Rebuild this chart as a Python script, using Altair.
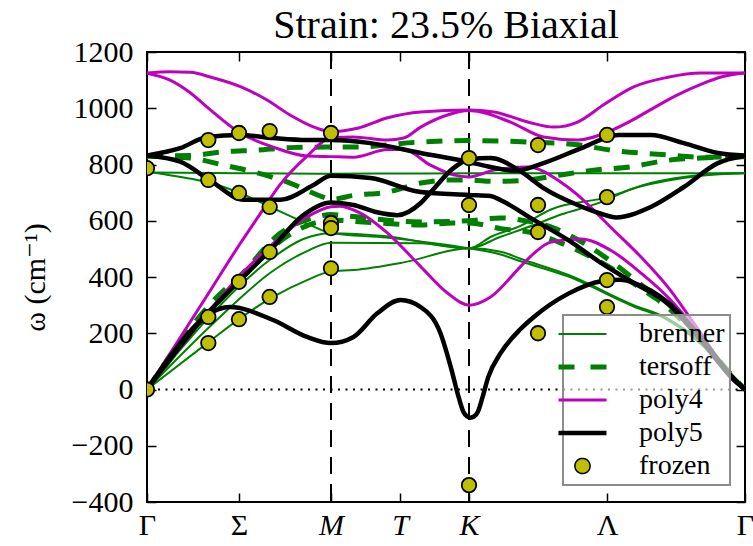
import altair as alt
import pandas as pd

FONT = "Liberation Serif, Times New Roman, DejaVu Serif, serif"

# ---------------- axes / labels ----------------
x_tick_pos = [0, 2, 4, 5.5, 7, 10, 13]
x_tick_lab = ["Γ", "Σ", "M", "T", "K", "Λ", "Γ"]
x_italic = ["M", "T", "K"]
y_ticks = [-400, -200, 0, 200, 400, 600, 800, 1000, 1200]
v_lines = [4, 7]          # M and K
zero_line = [0]

# ---------------- brenner (thin green) ----------------
brenner_1 = [(0, 772), (2, 769), (4, 767), (5.5, 768), (7, 769), (10, 769), (13, 769)]
brenner_2 = [(0, 775), (1.09, 745), (1.31, 738), (2.03, 698), (2.68, 649), (3.48, 590), (4, 556),
             (5.2, 540), (6.16, 522), (7, 502), (7.69, 480), (8.12, 456), (9.15, 402), (10.58, 295),
             (11.32, 247), (12.04, 162), (12.76, 40), (13, 0)]
brenner_3 = [(0, 0), (1.31, 250), (1.96, 360), (2.68, 462), (3.4, 535), (4, 556), (5.2, 545), (7, 502),
             (7.5, 545), (8.12, 582), (8.78, 640), (10.02, 684), (10.95, 734), (12.04, 763), (13, 770)]
brenner_4 = [(0, 0), (1.31, 165), (2.03, 254), (2.74, 329), (3.48, 389), (4, 420), (4.49, 425),
             (5.58, 452), (7, 502), (7.69, 490), (8.12, 465), (9.15, 408), (10.58, 300), (11.32, 252),
             (12.04, 168), (12.76, 42), (13, 0)]
brenner_5 = [(0, 0), (1.31, 215), (1.96, 315), (2.68, 415), (3.48, 492), (4, 522), (5.95, 520), (7, 502),
             (7.69, 543), (8.41, 585), (9.0, 622), (9.87, 666), (10.52, 712), (11.3, 742), (12.04, 760),
             (13, 769)]

# ---------------- tersoff (dashed green) ----------------
tersoff_1 = [(0, 830), (0.94, 832), (1.66, 845), (2.4, 851), (3.11, 860), (4, 862), (4.49, 862),
             (5.95, 880), (7, 885), (8.28, 880), (9.36, 870), (10.08, 851), (11.32, 834), (12.04, 826),
             (13, 828)]
tersoff_2 = [(0, 830), (0.94, 823), (1.66, 798), (2.4, 770), (3.11, 734), (3.83, 684), (4, 676),
             (4.49, 690), (5.23, 702), (5.95, 734), (6.66, 745), (7, 745), (7.54, 740), (8.28, 745),
             (8.99, 763), (9.71, 780), (10.52, 792), (11.32, 815), (12.04, 823), (13, 828)]
tersoff_3 = [(0, 0), (1.52, 329), (2.03, 405), (2.9, 556), (3.7, 614), (4, 622), (4.49, 615), (5.23, 602),
             (5.95, 596), (7, 600), (7.69, 610), (8.12, 603), (8.78, 578), (9.5, 520), (10.24, 437),
             (10.8, 365), (11.32, 306), (12.04, 180), (12.76, 42), (13, 0)]
tersoff_4 = [(0, 0), (1.52, 305), (2.2, 420), (3.05, 545), (3.7, 595), (4, 603), (4.49, 598), (5.23, 590),
             (5.95, 585), (6.66, 592), (7, 592), (7.69, 572), (8.41, 556), (9.15, 510), (10.0, 440),
             (10.8, 352), (11.32, 292), (12.04, 172), (12.76, 38), (13, 0)]

# ---------------- poly4 (magenta) ----------------
poly4_1 = [(0, 1125), (0.5, 1130), (0.94, 1128), (1.4, 1110), (2.03, 1077), (2.6, 1030), (3.11, 976),
           (3.6, 935), (4, 917), (4.6, 930), (5.23, 966), (5.95, 987), (7, 994), (7.54, 987), (8.28, 951),
           (8.84, 933), (9.36, 951), (9.95, 1015), (10.58, 1076), (11.32, 1110), (12.04, 1125), (13, 1125)]
poly4_2 = [(0, 1125), (0.5, 1100), (0.94, 1055), (1.3, 1005), (2.03, 912), (2.74, 862), (3.48, 830),
           (4, 828), (4.49, 826), (5.23, 853), (5.58, 853), (6.16, 798), (6.66, 763), (7, 756), (7.54, 780),
           (8.28, 791), (8.99, 738), (9.36, 692), (9.71, 638), (10.08, 577), (10.74, 471), (11.32, 365),
           (12.04, 200), (12.76, 34), (13, 0)]
poly4_3 = [(0, 0), (1.31, 335), (2.03, 520), (2.4, 610), (2.9, 730), (3.48, 830), (4, 895), (4.49, 898),
           (5.23, 887), (5.58, 894), (5.95, 933), (6.53, 976), (7, 992), (7.9, 951), (8.62, 898), (9.36, 887),
           (10.08, 920), (10.52, 955), (10.95, 995), (11.5, 1045), (12.04, 1085), (12.5, 1112), (13, 1125)]
poly4_4 = [(0, 0), (1.31, 270), (1.96, 395), (2.68, 510), (3.48, 614), (4, 650), (4.2, 652), (4.64, 627),
           (5.23, 556), (5.95, 437), (6.53, 343), (7, 300), (7.47, 329), (8.12, 437), (8.41, 484), (8.78, 524),
           (9.43, 535), (10.08, 495), (10.74, 414), (11.32, 329), (12.04, 190), (12.76, 30), (13, 0)]

# ---------------- poly5 (black) ----------------
poly5_1 = [(0, 832), (0.72, 858), (1.31, 898), (2.03, 905), (2.74, 894), (3.48, 887), (4, 887), (4.86, 876),
           (5.95, 841), (7, 809), (7.47, 791), (8.0, 778), (8.62, 805), (9.5, 862), (10.24, 905), (10.95, 905),
           (11.67, 876), (12.41, 841), (13, 832)]
poly5_2 = [(0, 832), (0.72, 810), (1.4, 740), (2.1, 675), (2.9, 675), (3.6, 725), (4, 760), (4.86, 752),
           (5.95, 702), (7, 692), (7.47, 688), (7.69, 673), (8.41, 603), (9.15, 532), (9.87, 450), (10.58, 379),
           (11.32, 306), (12.04, 176), (12.76, 34), (13, 0)]
poly5_3 = [(0, 0), (1.31, 270), (2.03, 390), (2.68, 496), (3.4, 620), (4, 665), (4.49, 656), (5.0, 630),
           (5.44, 620), (5.95, 663), (6.16, 700), (6.66, 787), (7, 818), (7.47, 823), (8.1, 778), (8.62, 716),
           (9.36, 656), (9.87, 625), (10.2, 612), (10.95, 649), (11.67, 720), (12.41, 805), (13, 830)]
poly5_4 = [(0, 0), (0.65, 150), (1.31, 265), (1.8, 293), (2.74, 247), (3.48, 187), (4, 165), (4.49, 187),
           (5.0, 270), (5.51, 318), (5.95, 293), (6.38, 200), (6.62, 70), (6.78, -30), (6.88, -80),
           (6.96, -96), (7.03, -100), (7.11, -96), (7.19, -80), (7.29, -30), (7.42, 45), (7.69, 130),
           (8.12, 215), (8.41, 258), (9.15, 340), (9.87, 385), (10.3, 390), (10.58, 379), (11.32, 310),
           (12.04, 185), (12.76, 38), (13, 0)]

# ---------------- frozen phonon points ----------------
frozen_x = [0, 0,
            4 / 3, 4 / 3, 4 / 3, 4 / 3,
            2, 2, 2, 2,
            8 / 3, 8 / 3, 8 / 3, 8 / 3,
            4, 4, 4, 4,
            7, 7, 7,
            8.5, 8.5, 8.5, 8.5,
            10, 10, 10, 10]
frozen_y = [787, 0,
            887, 745, 258, 165,
            912, 699, 383, 250,
            919, 649, 489, 329,
            912, 592, 574, 431,
            823, 656, -340,
            869, 656, 560, 200,
            905, 684, 389, 293]

# ---------------- legend ----------------
legend_names = ["brenner", "tersoff", "poly4", "poly5", "frozen"]
legend_stroke = ["#008000", "#008000", "#bf00bf", "#000000", "#000000"]
legend_fill = ["transparent", "transparent", "transparent", "transparent", "#bfbf00"]
legend_shape = ["M-2,0L2,0", "M-2,0L2,0", "M-2,0L2,0", "M-2,0L2,0", "circle"]
legend_size = [576, 576, 576, 576, 230]
legend_width = [2, 5, 3, 4.5, 1.5]
legend_dash = [[1, 0], [16, 16], [1, 0], [1, 0], [1, 0]]


def to_df(branches):
    rows = []
    for name, pts in branches.items():
        for i, (x, y) in enumerate(pts):
            rows.append({"branch": name, "i": i, "x": x, "y": y})
    return pd.DataFrame(rows)


xs = alt.Scale(domain=[0, 13], nice=False, zero=False)
ys = alt.Scale(domain=[-400, 1200], nice=False, zero=False)


def line_layer(df, color, width, dash=None):
    kw = dict(color=color, strokeWidth=width, interpolate="monotone", clip=True)
    if dash is not None:
        kw["strokeDash"] = dash
    return alt.Chart(df).mark_line(**kw).encode(
        x=alt.X("x:Q", scale=xs, axis=None),
        y=alt.Y("y:Q", scale=ys, axis=None),
        detail="branch:N",
        order="i:Q",
    )


brenner_df = to_df({"b1": brenner_1, "b2": brenner_2, "b3": brenner_3, "b4": brenner_4, "b5": brenner_5})
tersoff_df = to_df({"t1": tersoff_1, "t2": tersoff_2, "t3": tersoff_3, "t4": tersoff_4})
poly4_df = to_df({"p1": poly4_1, "p2": poly4_2, "p3": poly4_3, "p4": poly4_4})
poly5_df = to_df({"q1": poly5_1, "q2": poly5_2, "q3": poly5_3, "q4": poly5_4})
frozen_df = pd.DataFrame({"x": frozen_x, "y": frozen_y})

vline_df = pd.DataFrame({"x": v_lines})
zero_df = pd.DataFrame({"y": zero_line})

vlines_layer = alt.Chart(vline_df).mark_rule(color="black", strokeWidth=2, strokeDash=[17, 10]).encode(
    x=alt.X("x:Q", scale=xs, axis=None))
zero_layer = alt.Chart(zero_df).mark_rule(color="black", strokeWidth=2, strokeDash=[2, 5.5]).encode(
    y=alt.Y("y:Q", scale=ys, axis=None))

frozen_layer = alt.Chart(frozen_df).mark_point(
    filled=True, fill="#bfbf00", stroke="black", strokeWidth=1.8, size=210, opacity=1, clip=True
).encode(
    x=alt.X("x:Q", scale=xs, axis=None),
    y=alt.Y("y:Q", scale=ys, axis=None),
)

legend_df = pd.DataFrame({"series": legend_names, "x": [0] * 5, "y": [-5000] * 5})
legend_layer = alt.Chart(legend_df).mark_point(filled=True, clip=True, opacity=1).encode(
    x=alt.X("x:Q", scale=xs, axis=None),
    y=alt.Y("y:Q", scale=ys, axis=None),
    fill=alt.Fill("series:N", scale=alt.Scale(domain=legend_names, range=legend_fill),
                  legend=alt.Legend(title=None, orient="none", legendX=416, legendY=263, padding=5,
                                    rowPadding=4.5, labelFont=FONT, labelFontSize=28,
                                    labelColor="black", labelOffset=42, labelLimit=300,
                                    fillColor="rgba(255,255,255,0.6)", strokeColor="#8c8c8c")),
    stroke=alt.Stroke("series:N", scale=alt.Scale(domain=legend_names, range=legend_stroke)),
    shape=alt.Shape("series:N", scale=alt.Scale(domain=legend_names, range=legend_shape)),
    size=alt.Size("series:N", scale=alt.Scale(type="ordinal", domain=legend_names, range=legend_size)),
    strokeWidth=alt.StrokeWidth("series:N",
                                scale=alt.Scale(type="ordinal", domain=legend_names, range=legend_width)),
    strokeDash=alt.StrokeDash("series:N", scale=alt.Scale(domain=legend_names, range=legend_dash)),
)

# axis layers
label_expr = " : ".join(f"datum.value == {p} ? '{l}'" for p, l in zip(x_tick_pos, x_tick_lab)) + " : ''"
italic_vals = [p for p, l in zip(x_tick_pos, x_tick_lab) if l in x_italic]
italic_test = " || ".join(f"datum.value == {p}" for p in italic_vals)
tick_df = pd.DataFrame({"x": [0], "y": [0]})

axis_bl = alt.Chart(tick_df).mark_point(opacity=0).encode(
    x=alt.X("x:Q", scale=xs, axis=alt.Axis(
        orient="bottom", values=x_tick_pos, labelExpr=label_expr, title=None, grid=False, domain=False,
        tickSize={"expr": "-9"}, tickWidth=1.5, tickColor="black", labelPadding=17,
        labelFont=FONT, labelFontSize=30, labelColor="black", labelFlush=False,
        labelFontStyle={"condition": {"test": italic_test, "value": "italic"}, "value": "normal"})),
    y=alt.Y("y:Q", scale=ys, axis=alt.Axis(
        orient="left", values=y_ticks, format="d", title="ω (cm⁻¹)", grid=False, domain=False,
        tickSize={"expr": "-9"}, tickWidth=1.5, tickColor="black", labelPadding=23,
        labelFont=FONT, labelFontSize=30, labelColor="black", labelFlush=False,
        titleFont=FONT, titleFontSize=30, titleFontWeight="normal", titleColor="black",
        titleX=-112, titleY=225, titleBaseline="middle")),
)
axis_tr = alt.Chart(tick_df).mark_point(opacity=0).encode(
    x=alt.X("x:Q", scale=xs, axis=alt.Axis(
        orient="top", values=x_tick_pos, labels=False, title=None, grid=False, domain=False,
        tickSize={"expr": "-9"}, tickWidth=1.5, tickColor="black")),
    y=alt.Y("y:Q", scale=ys, axis=alt.Axis(
        orient="right", values=y_ticks, labels=False, title=None, grid=False, domain=False,
        tickSize={"expr": "-9"}, tickWidth=1.5, tickColor="black")),
)

chart = alt.layer(
    axis_bl, axis_tr,
    vlines_layer, zero_layer,
    line_layer(brenner_df, "#008000", 2),
    line_layer(tersoff_df, "#008000", 5, [16, 12]),
    line_layer(poly4_df, "#bf00bf", 3),
    line_layer(poly5_df, "#000000", 4.5),
    frozen_layer,
    legend_layer,
).resolve_axis(x="independent", y="independent").properties(
    width=598, height=450,
    title=alt.TitleParams(text="Strain: 23.5% Biaxial", font=FONT, fontSize=40, fontWeight="normal",
                          color="black", anchor="middle", offset=-9),
    autosize=alt.AutoSizeParams(type="none"),
    padding={"left": 147, "top": 52, "right": 8, "bottom": 44},
    background="white",
).configure_view(stroke="black", strokeWidth=2).configure_legend(strokeWidth=2)

chart.save("out.html", embed_options={"renderer": "svg", "actions": False})
